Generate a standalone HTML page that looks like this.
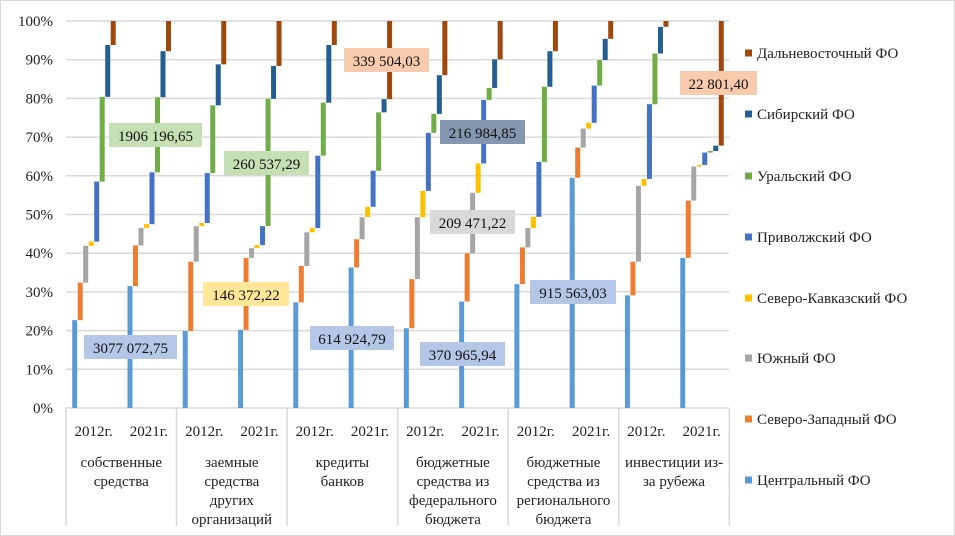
<!DOCTYPE html>
<html><head><meta charset="utf-8"><style>
html,body{margin:0;padding:0;background:#fff;}
svg{display:block;font-family:"Liberation Serif",serif;}
</style></head><body>
<svg id="s" width="955" height="536" xmlns="http://www.w3.org/2000/svg">
<rect x="0.5" y="0.5" width="954" height="535" fill="#fff" stroke="#d9d9d9"/>
<g id="grid"></g><g id="bars"></g><g id="lbl"></g>
</svg>
<script>
var S='http://www.w3.org/2000/svg';
function el(p,t,a,txt){var e=document.createElementNS(S,t);for(var k in a)e.setAttribute(k,a[k]);if(txt!=null)e.textContent=txt;document.getElementById(p).appendChild(e);return e;}
var y0=408,pp=3.87;function Y(v){return y0-v*pp;}
for(var i=0;i<=10;i++){var y=Y(i*10);
el('grid','line',{x1:66,x2:729,y1:y,y2:y,stroke:'#d9d9d9','stroke-width':1.5});
el('grid','text',{x:53,y:y+5,'font-size':15,'text-anchor':'end',fill:'#222'},(i*10)+'%');}
var gw=110.55;
for(var k=0;k<=6;k++){var x=66+k*gw;el('grid','line',{x1:x,x2:x,y1:408,y2:526,stroke:'#d9d9d9','stroke-width':1.5});}
var cols=['#5b9bd5','#ed7d31','#a5a5a5','#ffc000','#4472c4','#70ad47','#255e91','#9e480e'];
var D=[
[22.7,32.4,41.9,43,58.5,80.4,93.8,100],[31.5,42,46.5,47.5,60.9,80.3,92.2,100],
[19.9,37.8,47,47.8,60.7,78.2,88.8,100],[20.2,38.8,41.3,42.1,47,79.9,88.4,100],
[27.3,36.7,45.4,46.5,65.2,78.9,93.8,100],[36.3,43.6,49.3,52,61.3,76.4,79.8,100],
[20.6,33.3,49.3,56.1,71.1,76,86,100],[27.5,40,55.6,63.2,79.6,82.7,90.1,100],
[32,41.5,46.5,49.4,63.6,83,92.2,100],[59.5,67.3,72.2,73.7,83.3,89.9,95.4,100],
[29.1,37.8,57.4,59.2,78.5,91.6,98.5,100],[38.8,53.6,62.4,62.8,66,66.4,67.8,100]];
var cats=[['собственные','средства'],['заемные','средства','других','организаций'],['кредиты','банков'],['бюджетные','средства из','федерального','бюджета'],['бюджетные','средства из','регионального','бюджета'],['инвестиции из-','за рубежа']];
for(var b=0;b<12;b++){var g=Math.floor(b/2),bs=66+g*gw+(b%2?61.5:6.2);var prev=0;
for(var s=0;s<8;s++){var v=D[b][s];el('bars','rect',{x:bs+s*5.5,y:Y(v),width:5,height:Math.max(Y(prev)-Y(v),1.5),fill:cols[s]});prev=v;}}
for(var g=0;g<6;g++){var gx=66+g*gw;
el('grid','text',{x:gx+gw*0.25,y:436,'font-size':15,'text-anchor':'middle',fill:'#222'},'2012г.');
el('grid','text',{x:gx+gw*0.75,y:436,'font-size':15,'text-anchor':'middle',fill:'#222'},'2021г.');
cats[g].forEach(function(t,j){el('grid','text',{x:gx+gw/2,y:467+j*19,'font-size':15,'text-anchor':'middle',fill:'#222'},t);});}
var L=[['3077 072,75',84,335,93,'#b4c7e7'],['1906 196,65',109,123,93,'#c5e0b4'],['260 537,29',224,151,85,'#c5e0b4'],['146 372,22',203,282,86,'#ffe699'],['614 924,79',310,326,84,'#b4c7e7'],['339 504,03',344,48,85,'#f8cbad'],['216 984,85',440,120,85,'#8497b0'],['209 471,22',430,210,85,'#d9d9d9'],['370 965,94',420,342,85,'#b4c7e7'],['915 563,03',530,280,86,'#b4c7e7'],['22 801,40',680,71,77,'#f8cbad']];
L.forEach(function(l){el('lbl','rect',{x:l[1],y:l[2],width:l[3],height:24,fill:l[4]});
el('lbl','text',{x:l[1]+l[3]/2,y:l[2]+18,'font-size':15,'text-anchor':'middle',fill:'#111'},l[0]);});
var leg=['Дальневосточный ФО','Сибирский ФО','Уральский ФО','Приволжский ФО','Северо-Кавказский ФО','Южный ФО','Северо-Западный ФО','Центральный ФО'];
var ly=[53,114,176,237,298,358,419,480];
leg.forEach(function(t,i){el('lbl','rect',{x:745,y:ly[i]-3.5,width:7,height:7,fill:cols[7-i]});
el('lbl','text',{x:757,y:ly[i]+5,'font-size':15,fill:'#222'},t);});
</script>
</body></html>
